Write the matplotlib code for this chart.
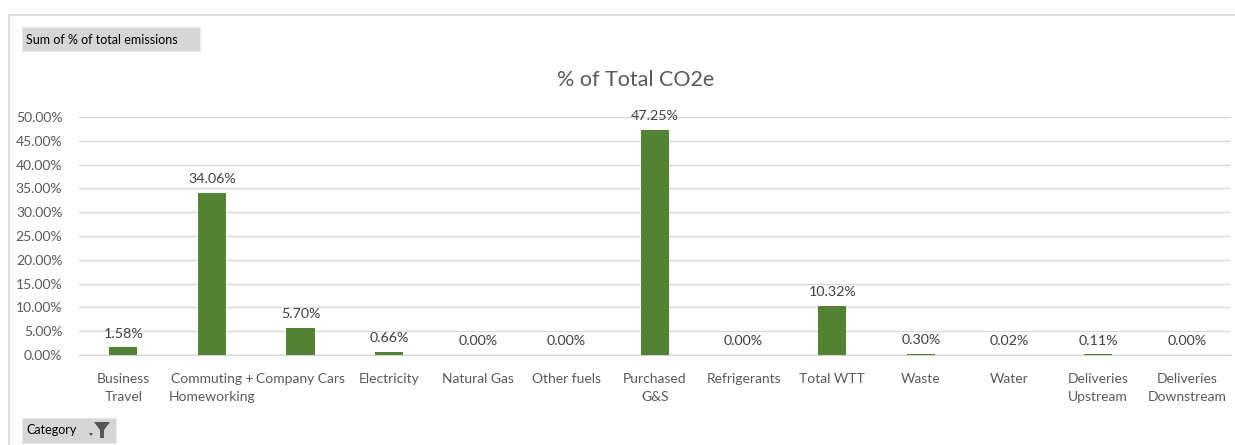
import matplotlib
matplotlib.use("Agg")
import matplotlib.pyplot as plt
from matplotlib.patches import Rectangle, Polygon
from matplotlib.ticker import FuncFormatter, MultipleLocator

plt.rcParams['font.family'] = ['Lato', 'DejaVu Sans']

categories = ["Business\nTravel", "Commuting +\nHomeworking", "Company Cars", "Electricity",
              "Natural Gas", "Other fuels", "Purchased\nG&S", "Refrigerants", "Total WTT",
              "Waste", "Water", "Deliveries\nUpstream", "Deliveries\nDownstream"]
values = [1.58, 34.06, 5.70, 0.66, 0.00, 0.00, 47.25, 0.00, 10.32, 0.30, 0.02, 0.11, 0.00]
title = "% of Total CO2e"

W, H = 1235, 445
fig = plt.figure(figsize=(W / 100, H / 100), dpi=100)
fig.patch.set_facecolor("white")

# chart frame
fig.add_artist(Rectangle((9 / W, -0.1), 1.2, (H - 15) / H + 0.1, transform=fig.transFigure,
                         fill=False, edgecolor="#d9d9d9", linewidth=1.2))

ax = fig.add_axes([79 / W, (H - 355) / H, (1231 - 79) / W, (355 - 117) / H])
x = list(range(len(categories)))
ax.bar(x, values, width=0.32, color="#548235", zorder=3)
ax.set_xlim(-0.5, len(categories) - 0.5)
ax.set_ylim(0, 50)
ax.yaxis.set_major_locator(MultipleLocator(5))
ax.yaxis.set_major_formatter(FuncFormatter(lambda v, p: f"{v:.2f}%"))
ax.grid(axis="y", color="#d9d9d9", linewidth=1, zorder=0)
for s in ["top", "right", "left"]:
    ax.spines[s].set_visible(False)
ax.spines["bottom"].set_color("#d0d0d0")
ax.tick_params(axis="both", length=0, colors="#595959", labelsize=10)
ax.tick_params(axis="y", pad=12)
ax.tick_params(axis="x", pad=13)
ax.set_xticks(x)
ax.set_xticklabels(categories, fontsize=10, color="#595959", linespacing=1.6)

for xi, v in zip(x, values):
    ax.annotate(f"{v:.2f}%", (xi, v), xytext=(0, 5.5), textcoords="offset points",
                ha="center", va="bottom", fontsize=10.3, color="#404040", clip_on=False,
                annotation_clip=False)

fig.text(636 / W, (H - 80) / H, title, ha="center", va="center", fontsize=15.5, color="#595959")

# field buttons
fig.add_artist(Rectangle((22 / W, (H - 51) / H), 178 / W, 24 / H, transform=fig.transFigure,
                         facecolor="#d6d6d6", edgecolor="#e8e8e8", linewidth=0.8))
fig.text(26 / W, (H - 39.5) / H, "Sum of % of total emissions", ha="left", va="center",
         fontsize=9, color="#000000")
fig.add_artist(Rectangle((22 / W, (H - 443) / H), 94 / W, 25 / H, transform=fig.transFigure,
                         facecolor="#d6d6d6", edgecolor="#e8e8e8", linewidth=0.8))
fig.text(26 / W, (H - 430.5) / H, "Category", ha="left", va="center", fontsize=9, color="#000000")
# filter icon
fig.add_artist(Polygon([[94 / W, (H - 422) / H], [110 / W, (H - 422) / H], [104 / W, (H - 430) / H],
                        [104 / W, (H - 438) / H], [100 / W, (H - 438) / H], [100 / W, (H - 430) / H]],
                       closed=True, transform=fig.transFigure, facecolor="#555555", edgecolor="none"))
fig.add_artist(Polygon([[89 / W, (H - 433) / H], [93 / W, (H - 433) / H], [91 / W, (H - 436) / H]],
                       closed=True, transform=fig.transFigure, facecolor="#555555", edgecolor="none"))

fig.savefig("out.png", dpi=100)
